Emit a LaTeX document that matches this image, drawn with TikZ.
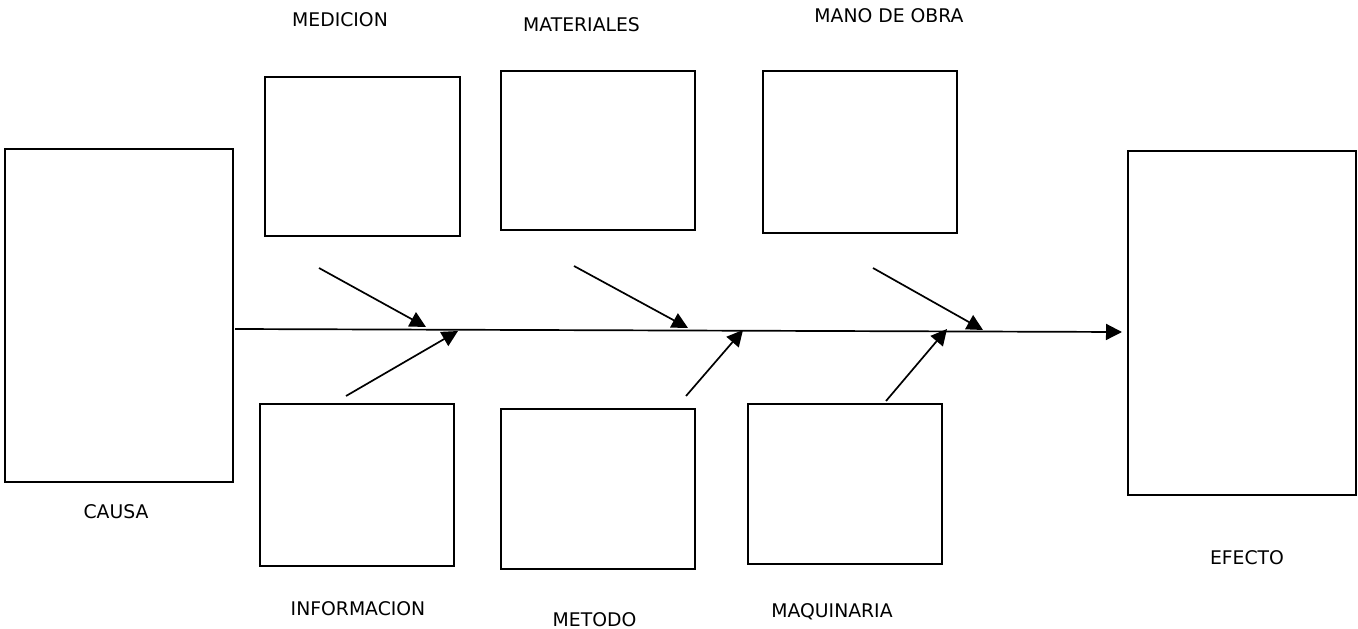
\documentclass[tikz,border=0pt]{standalone}
\usepackage{fontspec}
\setmainfont{DejaVu Sans}
\usetikzlibrary{arrows.meta}
\begin{document}
\begin{tikzpicture}[x=1pt,y=-1pt,
  box/.style={draw,line width=1.8pt},
  lbl/.style={font=\fontsize{18.8}{22}\selectfont,inner sep=0pt,text height=13.7pt,text depth=0pt},
  arr/.style={line width=1.7pt,-{Triangle[length=16pt,width=16pt]}}]
\useasboundingbox (0,0) rectangle (1358,629);
% boxes
\node[box,minimum width=228pt,minimum height=333pt,anchor=north west] (causa) at (4,148) {};
\node[box,minimum width=195pt,minimum height=159pt,anchor=north west] (medicion) at (264,76) {};
\node[box,minimum width=194pt,minimum height=159pt,anchor=north west] (materiales) at (500,70) {};
\node[box,minimum width=194pt,minimum height=162pt,anchor=north west] (mano) at (762,70) {};
\node[box,minimum width=194pt,minimum height=162pt,anchor=north west] (informacion) at (259,403) {};
\node[box,minimum width=194pt,minimum height=160pt,anchor=north west] (metodo) at (500,408) {};
\node[box,minimum width=194pt,minimum height=160pt,anchor=north west] (maquinaria) at (747,403) {};
\node[box,minimum width=228pt,minimum height=344pt,anchor=north west] (efecto) at (1127,150) {};
% labels
\node[lbl] (tmedicion) at (340,19.5) {MEDICION};
\node[lbl] (tmateriales) at (581.5,25) {MATERIALES};
\node[lbl] (tmano) at (889,15.5) {MANO DE OBRA};
\node[lbl] (tinformacion) at (358,608.5) {INFORMACION};
\node[lbl] (tmetodo) at (594.5,619.5) {METODO};
\node[lbl] (tmaquinaria) at (832,610.5) {MAQUINARIA};
\node[lbl] (tcausa) at (116,511.5) {CAUSA};
\node[lbl] (tefecto) at (1247,558) {EFECTO};
% spine
\coordinate (s0) at (235,329);
\coordinate (s1) at (1122,332);
\draw[arr] (s0) -- (s1);
% upper branches
\coordinate (u1a) at (319,268); \coordinate (u1b) at (426,327);
\coordinate (u2a) at (574,266); \coordinate (u2b) at (688,328);
\coordinate (u3a) at (873,268); \coordinate (u3b) at (983,330);
\draw[arr] (u1a) -- (u1b);
\draw[arr] (u2a) -- (u2b);
\draw[arr] (u3a) -- (u3b);
% lower branches
\coordinate (l1a) at (346,396); \coordinate (l1b) at (458,331);
\coordinate (l2a) at (686,396); \coordinate (l2b) at (743,330);
\coordinate (l3a) at (886,401); \coordinate (l3b) at (947,329);
\draw[arr] (l1a) -- (l1b);
\draw[arr] (l2a) -- (l2b);
\draw[arr] (l3a) -- (l3b);
\end{tikzpicture}
\end{document}
